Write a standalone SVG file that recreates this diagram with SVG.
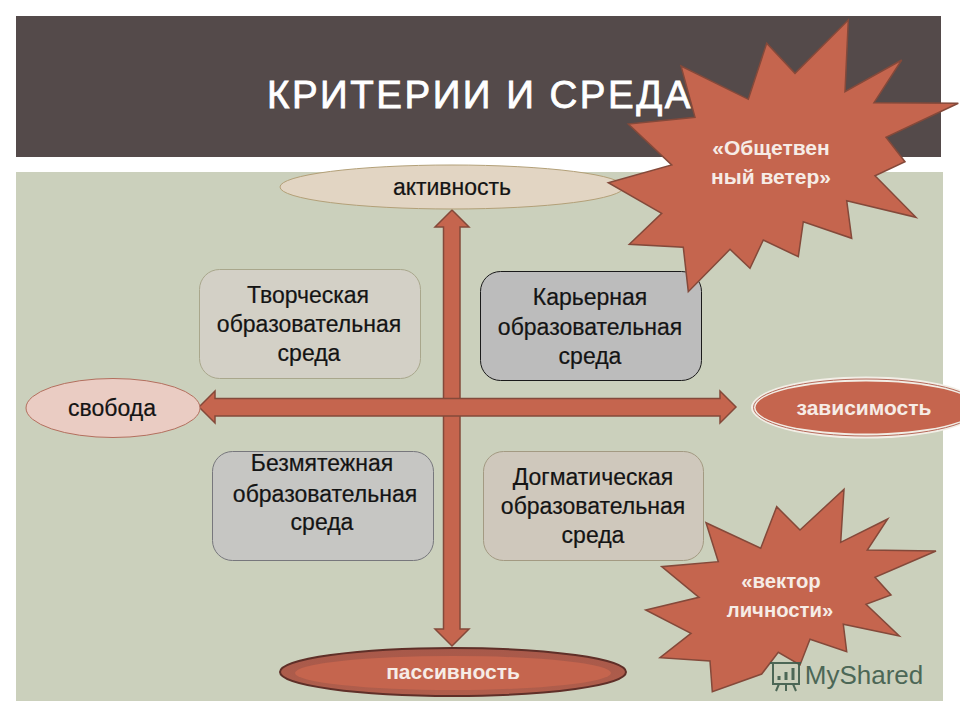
<svg xmlns="http://www.w3.org/2000/svg" width="960" height="720" viewBox="0 0 960 720">
<defs>
<style>
text{font-family:"Liberation Sans",Arial,sans-serif;font-size:23px;text-anchor:middle;fill:#141414;stroke:#141414;stroke-width:.2px}
.w{fill:#f6ece6;stroke:none;font-weight:bold;font-size:21px}
.v{font-size:20.300px}
.arrow{fill:#c5654e;stroke:#84493a;stroke-width:1.500}
.star{fill:#c5654e;stroke:#84493a;stroke-width:1.500}
.box{stroke-width:1}
</style>
<linearGradient id="pass" x1="0" y1="0" x2="0" y2="1"><stop offset="0" stop-color="#a8594a"/><stop offset="1" stop-color="#b05e4c"/></linearGradient>
</defs>
<rect width="960" height="720" fill="#fff"/>
<rect x="16" y="16" width="925" height="141" fill="#544a4a"/>
<rect x="16" y="172" width="927" height="529" fill="#cbd0bc"/>
<g id="connectors">
<path class="arrow" d="M452 210L469 227H460V629H469L452 646L435 629H443.500V227H435Z"/>
<path class="arrow" d="M199 407L215 391V398.500H720V391L736 407L720 423V416H215V423Z"/>
</g>
<g id="activity"><ellipse cx="452" cy="187" rx="172" ry="22" fill="#e2d5c3" stroke="#b3a078"/><text x="452" y="195">активность</text></g>
<g id="freedom"><ellipse cx="113" cy="408" rx="87" ry="29.500" fill="#eaccc3" stroke="#b36f5e"/><text x="112" y="416">свобода</text></g>
<g id="dependence"><ellipse cx="866" cy="407.500" rx="115" ry="31" fill="#f2eee6"/><ellipse cx="866" cy="407.500" rx="112.500" ry="28.500" fill="none" stroke="#b5695a"/><ellipse cx="866" cy="407.500" rx="110.500" ry="26" fill="#c5654e"/><text class="w" x="864" y="415">зависимость</text></g>
<g id="passivity"><ellipse cx="453" cy="672" rx="173" ry="24" fill="url(#pass)" stroke="#5f2f28" stroke-width="2"/><ellipse cx="453" cy="673" rx="158" ry="17" fill="#c5654e"/><text class="w" x="453" y="679">пассивность</text></g>
<g id="creative"><rect class="box" x="199.500" y="269.500" width="221" height="109" rx="20" fill="#d3d0c6" stroke="#a9a78c"/><text x="308" y="303">Творческая</text><text x="309" y="332">образовательная</text><text x="309" y="361">среда</text></g>
<g id="career"><rect class="box" x="480.500" y="271.500" width="221" height="109" rx="20" fill="#bcbcbc" stroke="#1a1a1a"/><text x="590" y="305">Карьерная</text><text x="590" y="335">образовательная</text><text x="590" y="364">среда</text></g>
<g id="serene"><rect class="box" x="212.500" y="451.500" width="221" height="109" rx="20" fill="#c6c6c3" stroke="#77777c"/><text x="322" y="471">Безмятежная</text><text x="325" y="502">образовательная</text><text x="322" y="530">среда</text></g>
<g id="dogmatic"><rect class="box" x="483.500" y="451.500" width="220" height="109" rx="20" fill="#cfc8bc" stroke="#a39a82"/><text x="593" y="485">Догматическая</text><text x="593" y="514">образовательная</text><text x="593" y="543">среда</text></g>
<g id="wind"><polygon class="star" points="848.300,20 795,73.300 766.700,43.300 748.300,99.300 681,66 695,117.300 628.300,124 671.700,165 608.300,182.700 661.700,213.300 629.300,244.300 683.300,247.300 688.300,291.700 730,249.300 750,268.300 763.300,240 798.300,256.700 803.300,221.700 851.700,238.300 846.700,200.700 916,217.300 875,175.700 905,161.700 886,137.300 958.300,103.300 874,102.700 901.700,60 845,91.700"/><text class="w" x="771" y="155">«Общетвен</text><text class="w" x="771" y="184">ный ветер»</text></g>
<text id="title" x="480" y="108" style="font-size:38.500px;letter-spacing:2.500px;fill:#fff;stroke:#fff;stroke-width:.8px">КРИТЕРИИ И СРЕДА</text>
<g id="vector"><polygon class="star" points="844,489.300 800,530 776.700,506.700 760.700,548.300 706,522.700 718.300,561.700 661.700,566.700 699,597.300 645.700,610 691,633.300 660,657.700 710,661 712.300,691.700 761.700,674 778.300,652.300 800,665 810,639.300 846.700,651.700 843.300,624.300 899.300,636 866,604.300 891,595 875,577.300 936,551 867.300,550 887.700,519 840.700,542.300"/><text class="w v" x="781" y="588">«вектор</text><text class="w v" x="780" y="617">личности»</text></g>
<g id="watermark" fill="none" stroke="#3f5c4c" stroke-width="2" opacity=".9">
<rect x="773" y="663" width="26" height="21"/><path d="M770 663H801M779 684L776 691M793 684L796 691M786 684V691"/>
<path d="M779 680V676M786 680V672M793 680V668" stroke-width="3"/>
<text x="864" y="684" style="font-size:26px;fill:#3f5c4c;stroke:none">MyShared</text>
</g>
</svg>
